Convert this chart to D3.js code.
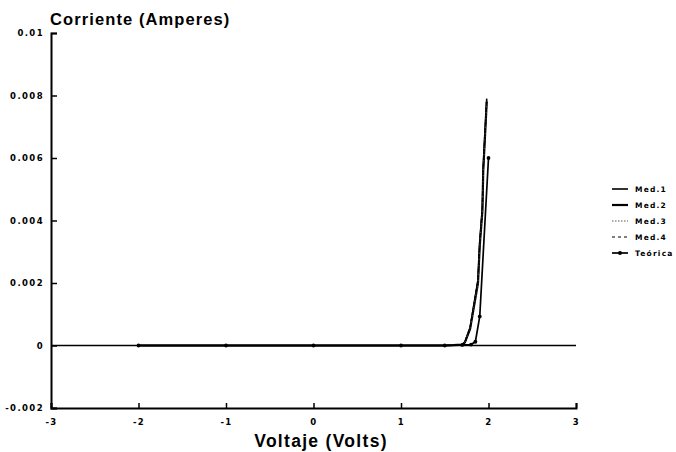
<!DOCTYPE html>
<html>
<head>
<meta charset="utf-8">
<script src="https://cdn.jsdelivr.net/npm/d3@7"></script>
<style>
  html, body { margin: 0; padding: 0; background: #fff; }
  svg { display: block; }
  text { font-family: "Liberation Sans", Arial, Helvetica, sans-serif; font-weight: bold; fill: #000; }
  .small { font-family: "DejaVu Sans", "Liberation Sans", sans-serif; font-weight: bold; }
</style>
</head>
<body>
<svg id="chart" width="676" height="452"></svg>
<script>
// Diode I-V curves: measured runs versus theoretical (Shockley) model
const xTicks = [-3, -2, -1, 0, 1, 2, 3];
const xTickLabels = ["-3", "-2", "-1", "0", "1", "2", "3"];
const yTicks = [-0.002, 0, 0.002, 0.004, 0.006, 0.008, 0.01];
const yTickLabels = ["-0.002", "0", "0.002", "0.004", "0.006", "0.008", "0.01"];

const seriesNames = ["Med.1", "Med.2", "Med.3", "Med.4", "Teórica"];

// Measured voltages (V) and currents (A)
const voltsMed = [-2, -1.5, -1, -0.5, 0, 0.5, 1, 1.5, 1.6, 1.7, 1.73, 1.79, 1.88, 1.9, 1.93, 1.94, 1.98];
const med1 = [0, 0, 0, 0, 0, 0, 0, 0, 0.00001, 0.00003, 0.0001, 0.00058, 0.0021, 0.0033, 0.0044, 0.0057, 0.0079];
const med2 = [0, 0, 0, 0, 0, 0, 0, 0, 0.00001, 0.00003, 0.0001, 0.00053, 0.0020, 0.0032, 0.0043, 0.0056, 0.0078];
const med3 = [0, 0, 0, 0, 0, 0, 0, 0, 0.00001, 0.00003, 0.0001, 0.00056, 0.0020, 0.0032, 0.0043, 0.0056, 0.0078];
const med4 = [0, 0, 0, 0, 0, 0, 0, 0, 0.00001, 0.00003, 0.0001, 0.00057, 0.0021, 0.0033, 0.0044, 0.0057, 0.0079];

// Theoretical model
const voltsTeo = [-2, -1, 0, 1, 1.5, 1.7, 1.8, 1.85, 1.9, 2.0];
const teorica = [0, 0, 0, 0, 0, 0.00002, 0.00003, 0.00012, 0.00093, 0.006];

const svg = d3.select("#chart");
const x = d3.scaleLinear().domain([-3, 3]).range([51, 576]);
const y = d3.scaleLinear().domain([-0.002, 0.01]).range([408, 33]);

// Zero-current reference line
svg.append("line")
  .attr("x1", x(-3)).attr("x2", x(3))
  .attr("y1", y(0)).attr("y2", y(0))
  .attr("stroke", "#000").attr("stroke-width", 1.4);

// Axes
const xAxis = svg.append("g")
  .attr("transform", `translate(0,${y(-0.002)})`)
  .call(d3.axisBottom(x).tickValues(xTicks).tickSize(-5).tickPadding(11)
    .tickFormat((d, i) => xTickLabels[i]));
const yAxis = svg.append("g")
  .attr("transform", `translate(${x(-3)},0)`)
  .call(d3.axisLeft(y).tickValues(yTicks).tickSize(-6).tickPadding(7)
    .tickFormat((d, i) => yTickLabels[i]));

[xAxis, yAxis].forEach(g => {
  g.select(".domain").attr("stroke", "#000").attr("stroke-width", 2);
  g.selectAll(".tick line").attr("stroke", "#000").attr("stroke-width", 1.5);
  g.selectAll(".tick text")
    .attr("class", "small")
    .style("font-family", "'DejaVu Sans', 'Liberation Sans', sans-serif")
    .style("font-weight", "bold")
    .style("font-size", "8.5px")
    .style("letter-spacing", "1.4px")
    .attr("fill", "#000");
});

// Series lines
const line = d3.line().x(d => x(d[0])).y(d => y(d[1]));
const styles = {
  "Med.1": { w: 1.6, dash: null, color: "#000" },
  "Med.2": { w: 2.2, dash: null, color: "#000" },
  "Med.3": { w: 1, dash: "1.5,1.5", color: "#555" },
  "Med.4": { w: 1.2, dash: "4,3", color: "#000" },
  "Teórica": { w: 1.7, dash: null, color: "#000" }
};
const seriesData = {
  "Med.1": d3.zip(voltsMed, med1),
  "Med.2": d3.zip(voltsMed, med2),
  "Med.3": d3.zip(voltsMed, med3),
  "Med.4": d3.zip(voltsMed, med4),
  "Teórica": d3.zip(voltsTeo, teorica)
};

seriesNames.forEach(name => {
  const s = styles[name];
  svg.append("path")
    .datum(seriesData[name])
    .attr("d", line)
    .attr("fill", "none")
    .attr("stroke", s.color)
    .attr("stroke-width", s.w)
    .attr("stroke-dasharray", s.dash)
    .attr("stroke-linejoin", "round");
});

// Markers on the theoretical curve
svg.append("g").selectAll("circle")
  .data(seriesData["Teórica"])
  .join("circle")
  .attr("cx", d => x(d[0]))
  .attr("cy", d => y(d[1]))
  .attr("r", 1.9)
  .attr("fill", "#000");

// Axis titles
svg.append("text")
  .attr("x", 50).attr("y", 25)
  .style("font-size", "16.5px")
  .style("letter-spacing", "1.1px")
  .text("Corriente (Amperes)");
svg.append("text")
  .attr("x", 321).attr("y", 447)
  .attr("text-anchor", "middle")
  .style("font-size", "17.5px")
  .style("letter-spacing", "1.3px")
  .text("Voltaje (Volts)");

// Legend
const legend = svg.append("g");
seriesNames.forEach((name, i) => {
  const s = styles[name];
  const ly = 189 + i * 16;
  legend.append("line")
    .attr("x1", 612).attr("x2", 628)
    .attr("y1", ly).attr("y2", ly)
    .attr("stroke", s.color)
    .attr("stroke-width", s.w)
    .attr("stroke-dasharray", name === "Med.4" ? "3,3" : s.dash);
  if (name === "Teórica") {
    legend.append("circle").attr("cx", 620).attr("cy", ly).attr("r", 2).attr("fill", "#000");
  }
  legend.append("text")
    .attr("class", "small")
    .attr("x", 635).attr("y", ly + 3)
    .style("font-size", "7.5px")
    .style("letter-spacing", "1.2px")
    .text(name);
});
</script>
</body>
</html>
